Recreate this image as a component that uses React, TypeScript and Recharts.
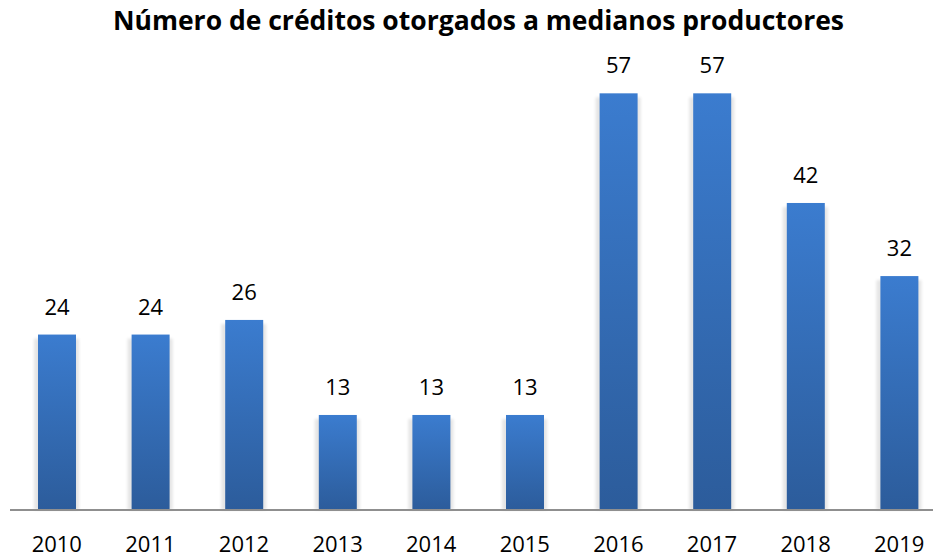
import React from 'react';
import { BarChart, Bar, XAxis, YAxis, LabelList } from 'recharts';

const years = ['2010', '2011', '2012', '2013', '2014', '2015', '2016', '2017', '2018', '2019'];
const credits = [24, 24, 26, 13, 13, 13, 57, 57, 42, 32];
const title = 'Número de créditos otorgados a medianos productores';

const data = years.map((y, i) => ({ year: y, value: credits[i] }));

const FONT = '"Open Sans", "Noto Sans", sans-serif';

const BarShape = (props: any) => {
  const { x, y, width, height } = props;
  if (height <= 0) return null;
  return (
    <g>
      <rect x={x - 4} y={y + 4} width={width + 7} height={height - 4} fill="#000" opacity={0.1} filter="url(#barShadow)" />
      <rect x={x} y={y} width={width} height={height} fill="url(#barGrad)" />
    </g>
  );
};

export default function App() {
  return (
    <div style={{ position: 'absolute', left: 0, top: 0, width: 933, height: 556, background: '#fff', overflow: 'hidden' }}>
      <div
        style={{
          position: 'absolute',
          left: 0,
          top: 1.5,
          width: 957,
          textAlign: 'center',
          fontFamily: FONT,
          fontWeight: 700,
          fontSize: 26.5,
          lineHeight: 'normal',
          color: '#000',
          whiteSpace: 'nowrap',
        }}
      >
        {title}
      </div>
      <BarChart
        width={933}
        height={556}
        data={data}
        margin={{ top: 71.4, right: -13, bottom: 0, left: 10 }}
        barSize={38}
        style={{ position: 'absolute', left: 0, top: 0 }}
      >
        <defs>
          <linearGradient id="barGrad" x1="0" y1="0" x2="0" y2="1">
            <stop offset="0%" stopColor="#3b7ccf" />
            <stop offset="100%" stopColor="#2c5c9b" />
          </linearGradient>
          <filter id="barShadow" x="-50%" y="-10%" width="200%" height="120%">
            <feGaussianBlur stdDeviation="1.5" />
          </filter>
        </defs>
        <XAxis
          dataKey="year"
          height={46}
          tickLine={false}
          tickSize={0}
          tickMargin={26}
          interval={0}
          axisLine={{ stroke: '#8f8f8f', strokeWidth: 2 }}
          tick={{ fill: '#000', fontSize: 22, fontFamily: FONT }}
        />
        <YAxis hide domain={[0, 60]} />
        <Bar dataKey="value" isAnimationActive={false} shape={<BarShape />}>
          <LabelList dataKey="value" position="top" offset={20} fill="#000" fontSize={22} fontFamily={FONT} />
        </Bar>
      </BarChart>
    </div>
  );
}
